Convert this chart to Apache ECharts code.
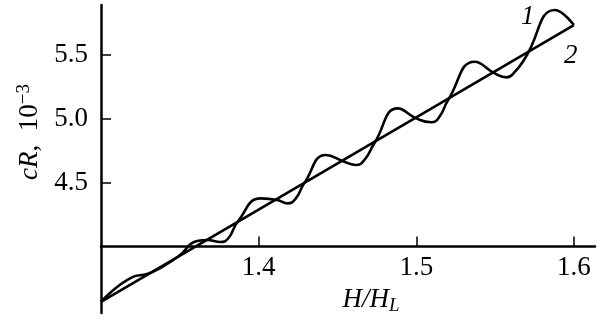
<!DOCTYPE html>
<html><head><meta charset="utf-8">
<script src="https://cdn.jsdelivr.net/npm/echarts@6/dist/echarts.min.js"></script>
<style>html,body{margin:0;padding:0;background:#fff}#c{width:605px;height:321px}</style>
</head><body><div id="c"></div>
<script>
// Curve 1 (oscillating)
const curve1X = [1.300, 1.3196, 1.3293, 1.3376, 1.349, 1.361, 1.3675, 1.3758, 1.3809, 1.3866, 1.4013, 1.4119, 1.4183, 1.4236, 1.4289, 1.4427, 1.4543, 1.4618, 1.4671, 1.4734, 1.4883, 1.500, 1.5096, 1.5146, 1.5202, 1.5371, 1.5499, 1.5573, 1.5624, 1.569, 1.5881, 1.600];
const curve1Y = [3.568, 3.759, 3.785, 3.832, 3.922, 4.043, 4.051, 4.035, 4.067, 4.192, 4.377, 4.364, 4.338, 4.377, 4.495, 4.716, 4.664, 4.638, 4.677, 4.808, 5.081, 5.003, 4.972, 5.013, 5.146, 5.446, 5.355, 5.324, 5.365, 5.473, 5.851, 5.733];
// Curve 2 (straight line)
const curve2X = [1.300, 1.600];
const curve2Y = [3.568, 5.733];
// Ticks
const xTicks = [1.4, 1.5, 1.6];
const yTicks = [4.5, 5.0, 5.5];
const seriesNames = ['1', '2'];

const X_MIN = 1.3, X_MAX = 1.6134, Y_MIN = 3.48, Y_MAX = 5.89, X_AXIS_AT = 4.0;
const GRID_TOP = 5, GRID_BOTTOM = 8;
const plotH = 321 - GRID_TOP - GRID_BOTTOM;
const xOffset = -((X_AXIS_AT - Y_MIN) / (Y_MAX - Y_MIN)) * plotH;

const FONT = '"Liberation Serif", "Times New Roman", Times, serif';
const chart = echarts.init(document.getElementById('c'), null, {renderer: 'canvas'});
const zip = (a, b) => a.map((v, i) => [v, b[i]]);
const lineStyle = {color: '#000', width: 2.6};

chart.setOption({
  animation: false,
  backgroundColor: '#fff',
  grid: {left: 101, right: 10, top: GRID_TOP, bottom: GRID_BOTTOM, containLabel: false},
  xAxis: {
    type: 'value', min: X_MIN, max: X_MAX, position: 'bottom', offset: xOffset,
    axisLine: {show: true, lineStyle: {color: '#000', width: 2.5}},
    axisTick: {show: true, inside: true, length: 10, customValues: xTicks, lineStyle: {color: '#000', width: 1.5}},
    axisLabel: {customValues: xTicks, formatter: v => (+v).toFixed(1), fontFamily: FONT, fontSize: 27, color: '#000', margin: 8},
    splitLine: {show: false},
    name: '{i|H}{n|/}{i|H}{sub|L}', nameLocation: 'middle', nameGap: 37,
    nameTextStyle: {
      padding: [0, 0, 0, 46],
      rich: {
        i: {fontFamily: FONT, fontStyle: 'italic', fontSize: 27, color: '#000'},
        n: {fontFamily: FONT, fontStyle: 'italic', fontSize: 27, color: '#000'},
        sub: {fontFamily: FONT, fontStyle: 'italic', fontSize: 19, color: '#000', padding: [12, 0, 0, 0]}
      }
    }
  },
  yAxis: {
    type: 'value', min: Y_MIN, max: Y_MAX,
    axisLine: {show: true, lineStyle: {color: '#000', width: 2.5}},
    axisTick: {show: true, inside: true, length: 10, customValues: yTicks, lineStyle: {color: '#000', width: 1.5}},
    axisLabel: {customValues: yTicks, formatter: v => (+v).toFixed(1), fontFamily: FONT, fontSize: 27, color: '#000', margin: 13},
    splitLine: {show: false},
    name: '{i|cR}{r|,  10}{s|−3}', nameLocation: 'middle', nameRotate: 90, nameGap: 52,
    nameTextStyle: {
      padding: [0, 0, 0, 54],
      rich: {
        i: {fontFamily: FONT, fontStyle: 'italic', fontSize: 27, color: '#000'},
        r: {fontFamily: FONT, fontSize: 27, color: '#000'},
        s: {fontFamily: FONT, fontSize: 19, color: '#000', padding: [0, 0, 12, 0]}
      }
    }
  },
  series: [
    {
      name: seriesNames[0], type: 'line', data: zip(curve1X, curve1Y), smooth: 0.5,
      showSymbol: false, symbol: 'none', lineStyle: lineStyle, z: 3,
      endLabel: {show: true, formatter: seriesNames[0], fontFamily: FONT, fontStyle: 'italic', fontSize: 27, color: '#000', offset: [-61, -8]}
    },
    {
      name: seriesNames[1], type: 'line', data: zip(curve2X, curve2Y),
      showSymbol: false, symbol: 'none', lineStyle: lineStyle, z: 3,
      endLabel: {show: true, formatter: seriesNames[1], fontFamily: FONT, fontStyle: 'italic', fontSize: 27, color: '#000', offset: [-18, 31]}
    }
  ]
});
</script></body></html>
